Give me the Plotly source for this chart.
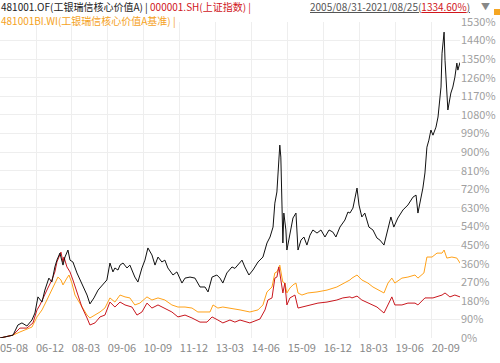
import plotly.graph_objects as go

# ---------------- data ----------------
fund_dates = [
    "2005-08-31", "2005-11-02", "2006-02-12", "2006-04-15", "2006-06-05", "2006-08-07", "2006-10-10",
    "2006-11-17", "2006-12-25", "2007-02-15", "2007-03-23", "2007-05-13", "2007-06-20", "2007-07-28",
    "2007-08-23", "2007-09-30", "2007-11-08", "2007-12-03", "2008-01-10", "2008-02-05", "2008-03-13",
    "2008-05-03", "2008-06-10", "2008-07-18", "2008-09-08", "2008-10-15", "2008-12-05", "2009-01-26",
    "2009-03-28", "2009-05-18", "2009-06-26", "2009-08-03", "2009-08-28", "2009-10-06", "2009-11-01",
    "2009-12-09", "2010-01-28", "2010-03-06", "2010-05-08", "2010-06-16", "2010-08-06", "2010-09-13",
    "2010-10-21", "2010-12-11", "2011-01-19", "2011-02-26", "2011-04-16", "2011-05-24", "2011-07-01",
    "2011-09-04", "2011-10-24", "2011-12-27", "2012-02-04", "2012-04-07", "2012-06-09", "2012-08-12",
    "2012-10-14", "2012-11-22", "2013-01-12", "2013-03-14", "2013-04-22", "2013-05-29", "2013-07-19",
    "2013-09-22", "2013-10-29", "2014-01-27", "2014-03-04", "2014-04-25", "2014-06-15", "2014-08-18",
    "2014-10-20", "2014-12-10", "2015-01-18", "2015-02-25", "2015-03-20", "2015-04-15", "2015-05-10",
    "2015-05-22", "2015-06-04", "2015-06-17", "2015-06-30", "2015-07-12", "2015-08-07", "2015-08-20",
    "2015-09-27", "2015-11-05", "2015-12-13", "2015-12-25", "2016-01-08", "2016-02-15", "2016-03-23",
    "2016-04-30", "2016-06-08", "2016-07-15", "2016-09-05", "2016-10-25", "2016-12-15", "2017-02-05",
    "2017-03-25", "2017-05-03", "2017-06-23", "2017-08-25", "2017-10-03", "2017-10-28", "2017-12-05",
    "2018-01-26", "2018-02-20", "2018-03-28", "2018-05-05", "2018-06-26", "2018-08-16", "2018-10-06",
    "2018-11-13", "2019-01-03", "2019-02-23", "2019-04-01", "2019-05-08", "2019-06-28", "2019-09-01",
    "2019-11-03", "2020-01-06", "2020-02-14", "2020-03-09", "2020-04-16", "2020-05-11", "2020-06-06",
    "2020-07-01", "2020-07-26", "2020-08-21", "2020-09-16", "2020-10-24", "2020-11-19", "2020-12-27",
    "2021-01-09", "2021-02-04", "2021-02-16", "2021-03-11", "2021-03-24", "2021-05-01", "2021-05-26",
    "2021-06-21", "2021-07-16", "2021-07-29", "2021-08-25",
]
fund_values = [
    0, 5, 14, 63, 73, 58, 87,
    121, 199, 174, 232, 290, 271, 344,
    377, 411, 353, 392, 426, 377, 368,
    315, 281, 247, 208, 165, 194, 232,
    257, 281, 363, 320, 339, 329, 353,
    363, 339, 353, 295, 271, 339, 377,
    436, 402, 353, 392, 368, 377, 339,
    305, 320, 266, 290, 295, 290, 247,
    247, 223, 295, 305, 290, 266, 315,
    344, 337, 377, 344, 305, 329, 368,
    392, 460, 489, 537, 653, 707, 862,
    934, 876, 644, 460, 605, 523, 426,
    508, 581, 605, 537, 426, 474, 489,
    450, 498, 523, 508, 523, 489, 523,
    513, 489, 537, 571, 610, 605, 629,
    726, 644, 586, 605, 537, 523, 484,
    474, 450, 532, 586, 537, 581, 620,
    644, 682, 692, 605, 682, 726, 799,
    924, 958, 1007, 982, 1021, 1070, 1215,
    1379, 1481, 1345, 1152, 1104, 1186, 1215,
    1263, 1331, 1297, 1334.6,
]

bench_dates = [
    "2005-08-31", "2006-02-12", "2006-05-10", "2006-07-12", "2006-10-10", "2006-12-13", "2007-02-15",
    "2007-04-18", "2007-06-20", "2007-07-28", "2007-09-05", "2007-10-13", "2007-11-08", "2007-12-28",
    "2008-01-23", "2008-02-29", "2008-04-08", "2008-05-15", "2008-07-05", "2008-09-08", "2008-10-15",
    "2008-12-18", "2009-02-20", "2009-04-23", "2009-06-26", "2009-08-28", "2009-11-01", "2010-01-03",
    "2010-03-06", "2010-05-08", "2010-07-11", "2010-10-09", "2010-12-11", "2011-02-26", "2011-05-24",
    "2011-08-21", "2011-11-06", "2012-02-04", "2012-05-02", "2012-07-16", "2012-10-14", "2012-12-17",
    "2013-01-24", "2013-03-27", "2013-05-29", "2013-08-27", "2014-01-02", "2014-05-07", "2014-08-18",
    "2014-10-20", "2014-12-10", "2015-02-12", "2015-03-20", "2015-04-15", "2015-05-22", "2015-06-17",
    "2015-06-30", "2015-07-25", "2015-08-20", "2015-09-27", "2015-11-05", "2015-12-13", "2016-01-08",
    "2016-02-27", "2016-05-12", "2016-09-05", "2017-01-10", "2017-05-15", "2017-08-25", "2017-10-28",
    "2017-11-23", "2018-01-26", "2018-03-28", "2018-06-13", "2018-08-16", "2018-10-18", "2019-01-03",
    "2019-02-23", "2019-04-13", "2019-05-21", "2019-08-19", "2019-11-03", "2020-02-01", "2020-03-09",
    "2020-05-24", "2020-07-01", "2020-09-04", "2020-11-06", "2021-01-09", "2021-02-04", "2021-03-11",
    "2021-05-14", "2021-07-16", "2021-08-25",
]
bench_values = [
    0, 14, 29, 39, 53, 102, 136,
    184, 232, 266, 295, 281, 257, 290,
    305, 266, 208, 184, 150, 111, 97,
    111, 126, 145, 194, 174, 208, 199,
    194, 160, 169, 199, 184, 194, 184,
    160, 150, 150, 145, 126, 126, 126,
    160, 145, 150, 145, 136, 126, 136,
    160, 223, 247, 315, 320, 353, 295,
    271, 266, 218, 242, 257, 266, 218,
    208, 218, 223, 232, 247, 266, 281,
    290, 305, 281, 266, 247, 232, 218,
    266, 290, 266, 290, 295, 305, 290,
    315, 392, 392, 411, 411, 426, 387,
    392, 387, 363,
]

sse_dates = [
    "2005-08-31", "2006-02-12", "2006-05-10", "2006-08-07", "2006-10-23", "2006-12-13", "2007-01-20",
    "2007-02-28", "2007-04-30", "2007-06-20", "2007-07-28", "2007-08-23", "2007-10-13", "2007-11-08",
    "2007-11-20", "2007-12-28", "2008-02-05", "2008-03-13", "2008-05-03", "2008-07-05", "2008-09-08",
    "2008-10-15", "2008-12-18", "2009-02-20", "2009-04-23", "2009-06-26", "2009-08-28", "2009-11-01",
    "2010-01-03", "2010-04-01", "2010-06-04", "2010-08-06", "2010-10-09", "2010-12-11", "2011-02-26",
    "2011-05-24", "2011-08-21", "2011-11-06", "2012-02-04", "2012-05-02", "2012-08-12", "2012-11-09",
    "2013-01-12", "2013-03-27", "2013-05-29", "2013-08-27", "2013-10-29", "2014-01-02", "2014-05-07",
    "2014-09-12", "2014-11-15", "2014-12-22", "2015-02-12", "2015-03-20", "2015-04-15", "2015-05-10",
    "2015-06-17", "2015-06-30", "2015-07-25", "2015-08-20", "2015-09-27", "2015-11-30", "2016-01-08",
    "2016-03-10", "2016-06-08", "2016-09-17", "2017-01-10", "2017-05-15", "2017-07-30", "2017-10-28",
    "2017-11-23", "2018-01-26", "2018-03-28", "2018-06-13", "2018-10-06", "2019-01-03", "2019-02-23",
    "2019-04-13", "2019-05-21", "2019-08-19", "2019-11-03", "2020-02-01", "2020-03-09", "2020-06-06",
    "2020-09-16", "2021-01-09", "2021-02-16", "2021-04-19", "2021-06-21", "2021-08-25",
]
sse_values = [
    0, 14, 48, 48, 73, 136, 160,
    194, 242, 281, 320, 368, 416, 368,
    392, 344, 320, 281, 218, 150, 97,
    63, 73, 102, 111, 174, 150, 174,
    160, 150, 111, 126, 169, 145, 160,
    145, 126, 102, 111, 97, 77, 77,
    102, 87, 73, 87, 77, 87, 73,
    92, 136, 184, 194, 290, 295, 344,
    247, 218, 266, 160, 194, 208, 145,
    150, 160, 169, 174, 184, 194, 199,
    194, 203, 184, 169, 150, 121, 160,
    199, 160, 160, 169, 169, 160, 194,
    194, 208, 218, 199, 208, 199,
]

x_tick_dates = ["2005-08-31", "2006-12-01", "2008-03-01", "2009-06-01", "2010-09-01", "2011-12-01",
                "2013-03-01", "2014-06-01", "2015-09-01", "2016-12-01", "2018-03-01", "2019-06-01",
                "2020-09-01"]
x_tick_labels = ["05-08", "06-12", "08-03", "09-06", "10-09", "11-12", "13-03", "14-06", "15-09",
                 "16-12", "18-03", "19-06", "20-09"]
y_tick_values = [0, 90, 180, 270, 360, 450, 540, 630, 720, 810, 900, 990, 1080, 1170, 1260, 1350,
                 1440, 1530]
y_tick_labels = [f"{v}%" for v in y_tick_values]

# ---------------- styles ----------------
FONT = "Noto Sans CJK SC, Noto Sans, sans-serif"
C_FUND = "#111111"
C_SSE = "#c9171e"
C_BENCH = "#ffa21a"

W, H = 500, 363
M_L, M_R, M_T, M_B = 0, 40, 22, 25
PW = W - M_L - M_R
PH = H - M_T - M_B


def px(xp):
    return (xp - M_L) / PW


def py(yp):
    return (H - M_B - yp) / PH


fig = go.Figure()
fig.add_trace(go.Scatter(x=bench_dates, y=bench_values, mode="lines",
                         line=dict(color=C_BENCH, width=1), hoverinfo="skip"))
fig.add_trace(go.Scatter(x=sse_dates, y=sse_values, mode="lines",
                         line=dict(color=C_SSE, width=1), hoverinfo="skip"))
fig.add_trace(go.Scatter(x=fund_dates, y=fund_values, mode="lines",
                         line=dict(color=C_FUND, width=1), hoverinfo="skip"))

fig.update_layout(
    width=W, height=H,
    margin=dict(l=M_L, r=M_R, t=M_T, b=M_B, pad=0),
    paper_bgcolor="white", plot_bgcolor="white",
    showlegend=False,
    font=dict(family=FONT, size=11, color="#999999"),
    xaxis=dict(
        type="date", range=["2005-08-30 12:00", "2021-08-25"],
        tickmode="array", tickvals=x_tick_dates, ticktext=x_tick_labels,
        showgrid=True, gridcolor="#eeeeee", gridwidth=1,
        showline=False, zeroline=False, ticks="",
        tickfont=dict(family=FONT, size=11, color="#888888"),
        ticklabelshift=14, ticklabelstandoff=2, ticklabeloverflow="allow",
        fixedrange=True,
    ),
    yaxis=dict(
        range=[0, 1530], side="right",
        tickmode="array", tickvals=y_tick_values, ticktext=y_tick_labels,
        showgrid=True, gridcolor="#eeeeee", gridwidth=1,
        showline=False, zeroline=False, ticks="",
        tickfont=dict(family=FONT, size=11, color="#a0a0a0"),
        fixedrange=True,
    ),
)

annotations = [
    dict(text='481001.OF(工银瑞信核心价值A) | <span style="color:#d0161c">000001.SH(上证指数) |</span>',
         x=px(0), y=py(6.5), font=dict(family=FONT, size=10, color="#222222")),
    dict(text='481001BI.WI(工银瑞信核心价值A基准) |',
         x=px(0), y=py(20.5), font=dict(family=FONT, size=10, color="#f5a21c")),
    dict(text='<span style="text-decoration:underline">2005/08/31-2021/08/25(</span>'
              '<span style="text-decoration:underline;color:#d0161c">1334.60%</span>'
              '<span style="text-decoration:underline">)</span>',
         x=px(309), y=py(7), font=dict(family=FONT, size=10, color="#555555")),
    dict(text='▼', x=px(480), y=py(7), font=dict(family=FONT, size=9, color="#888888")),
]
for a in annotations:
    a.update(xref="paper", yref="paper", xanchor="left", yanchor="middle", showarrow=False,
             align="left", borderpad=0)
fig.update_layout(annotations=annotations)

# small orange lock icon at the top right corner
fig.add_shape(type="rect", xref="paper", yref="paper",
              x0=px(494), x1=px(501), y0=py(15), y1=py(9),
              fillcolor="#f5a623", line=dict(width=0))

fig.write_html("out.html", config={"displayModeBar": False},
               post_script="document.body.style.margin='0';")
